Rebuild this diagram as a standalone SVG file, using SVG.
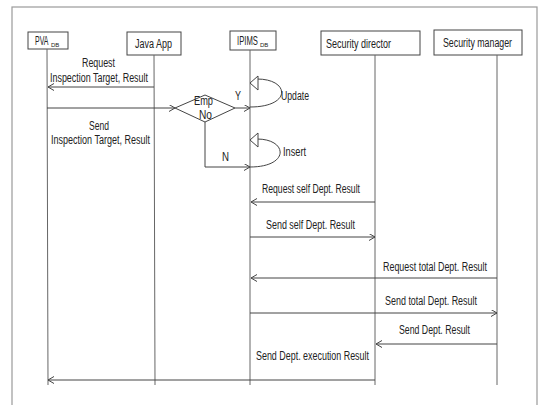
<svg xmlns="http://www.w3.org/2000/svg" width="538" height="405" viewBox="0 0 538 405">
  <style>
    .frame { fill: #fff; stroke: #9a9a9a; stroke-width: 1.2; }
    .box { fill: #fff; stroke: #444; stroke-width: 1; }
    .life { stroke: #666; stroke-width: 1; fill: none; }
    .msg { stroke: #444; stroke-width: 1; fill: none; marker-end: url(#open); }
    .line { stroke: #444; stroke-width: 1; fill: none; }
    text { font-family: "Liberation Sans", Arial, sans-serif; font-size: 12px; fill: #222; }
    .sub { font-size: 6px; }
  </style>
  <defs>
    <marker id="open" markerWidth="8" markerHeight="8" refX="6" refY="3.5" orient="auto" markerUnits="userSpaceOnUse">
      <path d="M0,0 L6,3.5 L0,7" fill="none" stroke="#444" stroke-width="1"/>
    </marker>
  </defs>

  <rect class="frame" x="12" y="7" width="525" height="410"/>

  <!-- participants -->
  <g id="pva">
    <rect class="box" x="28" y="32" width="40" height="17"/>
    <text transform="translate(35,45) scale(0.58,1)">PVA</text>
    <text class="sub" x="51" y="47">DB</text>
    <line class="life" x1="47" y1="49" x2="48" y2="385"/>
  </g>
  <g id="javaapp">
    <rect class="box" x="127" y="32" width="54" height="23"/>
    <text x="135" y="47.5" textLength="37" lengthAdjust="spacingAndGlyphs">Java App</text>
    <line class="life" x1="154" y1="55" x2="155" y2="385"/>
  </g>
  <g id="ipims">
    <rect class="box" x="230" y="31" width="46" height="19"/>
    <text transform="translate(237,45) scale(0.64,1)">IPIMS</text>
    <text class="sub" x="260" y="47">DB</text>
    <line class="life" x1="250" y1="50" x2="250" y2="385"/>
  </g>
  <g id="director">
    <rect class="box" x="321" y="31" width="99" height="24"/>
    <text x="326" y="47.5" textLength="65" lengthAdjust="spacingAndGlyphs">Security director</text>
    <line class="life" x1="375" y1="55" x2="375" y2="385"/>
  </g>
  <g id="manager">
    <rect class="box" x="434" y="30" width="88" height="25"/>
    <text x="443" y="46.5" textLength="69" lengthAdjust="spacingAndGlyphs">Security manager</text>
    <line class="life" x1="497" y1="55" x2="497" y2="385"/>
  </g>

  <!-- decision -->
  <g id="decision">
    <polygon class="box" points="175,108 205,95 235,108 205,122"/>
    <text x="194" y="105" textLength="19" lengthAdjust="spacingAndGlyphs">Emp</text>
    <text x="199" y="119" textLength="13" lengthAdjust="spacingAndGlyphs">No</text>
  </g>

  <!-- self calls -->
  <g id="update">
    <path class="line" d="M257,79 C290,79 292,107 250,107"/>
    <polygon points="250,83 258,76 258,90" fill="#fff" stroke="#444" stroke-width="1"/>
    <text x="281" y="100" textLength="28" lengthAdjust="spacingAndGlyphs">Update</text>
  </g>
  <g id="insert">
    <path class="line" d="M257,139 C288,139 290,167 250,167"/>
    <polygon points="250,140 258,133 258,147" fill="#fff" stroke="#444" stroke-width="1"/>
    <text x="283" y="156" textLength="23" lengthAdjust="spacingAndGlyphs">Insert</text>
  </g>

  <!-- messages -->
  <g id="connectors">
    <line class="msg" x1="154" y1="87" x2="48" y2="87"/>
    <line class="msg" x1="47" y1="108" x2="175" y2="108"/>
    <line class="msg" x1="235" y1="108" x2="250" y2="108"/>
    <polyline class="msg" points="205,122 205,167 250,167"/>
    <line class="msg" x1="375" y1="202" x2="251" y2="202"/>
    <line class="msg" x1="250" y1="237" x2="375" y2="237"/>
    <line class="msg" x1="497" y1="278" x2="251" y2="278"/>
    <line class="msg" x1="250" y1="313" x2="497" y2="313"/>
    <line class="msg" x1="497" y1="344" x2="376" y2="344"/>
    <line class="msg" x1="375" y1="380" x2="48" y2="380"/>
  </g>

  <!-- labels -->
  <g id="labels">
    <text x="82" y="67" textLength="33" lengthAdjust="spacingAndGlyphs">Request</text>
    <text x="50" y="82" textLength="98" lengthAdjust="spacingAndGlyphs">Inspection Target, Result</text>
    <text x="235" y="100" textLength="6" lengthAdjust="spacingAndGlyphs">Y</text>
    <text x="89" y="130" textLength="20" lengthAdjust="spacingAndGlyphs">Send</text>
    <text x="51" y="144" textLength="99" lengthAdjust="spacingAndGlyphs">Inspection Target, Result</text>
    <text x="222" y="161" textLength="7" lengthAdjust="spacingAndGlyphs">N</text>
    <text x="262" y="193" textLength="98" lengthAdjust="spacingAndGlyphs">Request self Dept. Result</text>
    <text x="266" y="229" textLength="89" lengthAdjust="spacingAndGlyphs">Send self Dept. Result</text>
    <text x="383" y="271" textLength="104" lengthAdjust="spacingAndGlyphs">Request total Dept. Result</text>
    <text x="385" y="305" textLength="92" lengthAdjust="spacingAndGlyphs">Send total  Dept. Result</text>
    <text x="399" y="334" textLength="71" lengthAdjust="spacingAndGlyphs">Send Dept. Result</text>
    <text x="256" y="360" textLength="113" lengthAdjust="spacingAndGlyphs">Send Dept. execution Result</text>
  </g>
</svg>
